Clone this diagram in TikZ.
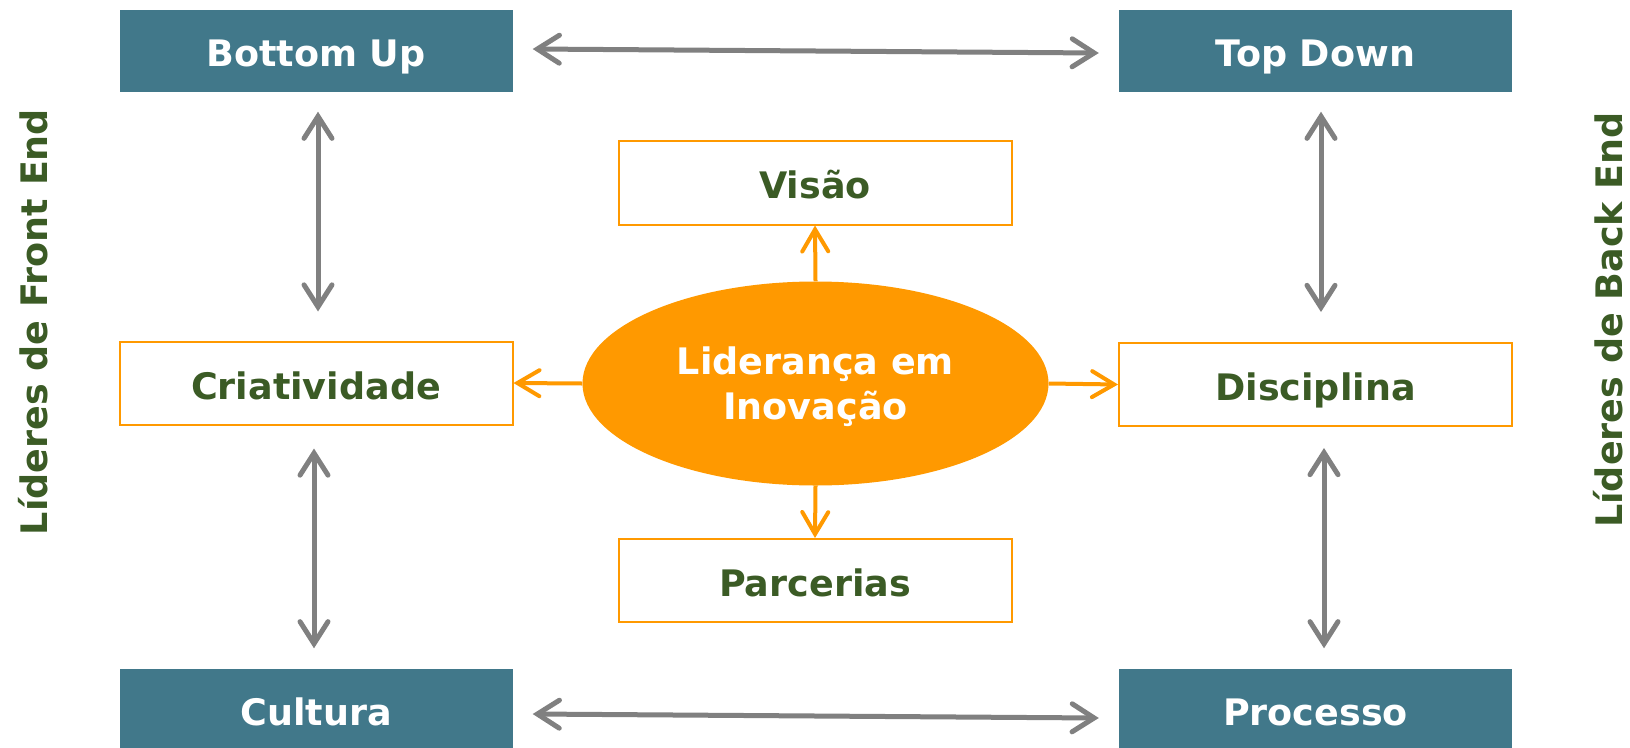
\documentclass[tikz,border=0pt]{standalone}
\usepackage{fontspec}
\setmainfont{DejaVu Sans}
\usetikzlibrary{arrows.meta,shapes.geometric,calc}
\definecolor{teal}{HTML}{41788A}
\definecolor{org}{HTML}{FF9900}
\definecolor{grn}{HTML}{3B5B25}
\definecolor{gry}{HTML}{808080}
\tikzset{
  txt/.style={font=\fontsize{36.5}{45}\selectfont\bfseries, text height=32.6pt, text depth=0pt, inner sep=0pt},
  darkbox/.style={txt, fill=teal, text=white, minimum width=393pt, minimum height=82pt},
  litebox/.style={txt, draw=org, line width=2pt, fill=white, text=grn, minimum width=393pt, minimum height=83pt},
  grayarr/.style={draw=gry, line width=5pt, {Straight Barb[length=22pt,width=28pt,line cap=round]}-{Straight Barb[length=22pt,width=28pt,line cap=round]}},
  orarr/.style={draw=org, line width=4pt, -{Straight Barb[length=22pt,width=26pt,line cap=round]}},
  sidetxt/.style={font=\fontsize{36.5}{45}\selectfont\bfseries, text=grn, rotate=90, inner sep=0pt}
}
\begin{document}
\begin{tikzpicture}[x=1pt,y=-1pt]
\useasboundingbox (0,0) rectangle (1630,747);
\node[darkbox] (bu) at (316,50.5) {Bottom Up};
\node[darkbox] (td) at (1315.5,50.5) {Top Down};
\node[litebox] (cr) at (316,383) {Criatividade};
\node[litebox] (di) at (1315.5,384.5) {Disciplina};
\node[darkbox] (cu) at (316,709.5) {Cultura};
\node[darkbox] (pr) at (1315.5,709.5) {Processo};
\node[litebox, minimum height=84pt] (vi) at (815,182.5) {Visão};
\node[litebox] (pa) at (815,580.5) {Parcerias};
\node[ellipse, fill=org, minimum width=466pt, minimum height=204pt, inner sep=0pt] (el) at (815.5,383.5) {};
\node[text=white, inner sep=0pt, font=\fontsize{36.5}{45}\selectfont\bfseries, align=center] (elt) at (815.5,387) {Liderança em\\Inovação};
\node[sidetxt] (lf) at (33,322) {Líderes de Front End};
\node[sidetxt] (lb) at (1608,320) {Líderes de Back End};
% gray connectors
\draw[grayarr] ($(bu.east)+(20,-1.5)$) -- ($(td.west)+(-20,2.5)$);
\draw[grayarr] ($(cu.east)+(20,4.5)$) -- ($(pr.west)+(-20,8.5)$);
\draw[grayarr] ($(bu.south)+(2,20)$) -- ($(cr.north)+(2,-29)$);
\draw[grayarr] ($(cr.south)+(-2,23)$) -- ($(cu.north)+(-2,-20)$);
\draw[grayarr] ($(td.south)+(5.5,20)$) -- ($(di.north)+(5.5,-30)$);
\draw[grayarr] ($(di.south)+(8.5,21)$) -- ($(pr.north)+(8.5,-20)$);
% orange connectors
\draw[orarr] (el.north) -- (vi.south);
\draw[orarr] (el.south) -- (pa.north);
\draw[orarr] (el.west) -- (cr.east);
\draw[orarr] (el.east) -- (di.west);
\end{tikzpicture}
\end{document}
